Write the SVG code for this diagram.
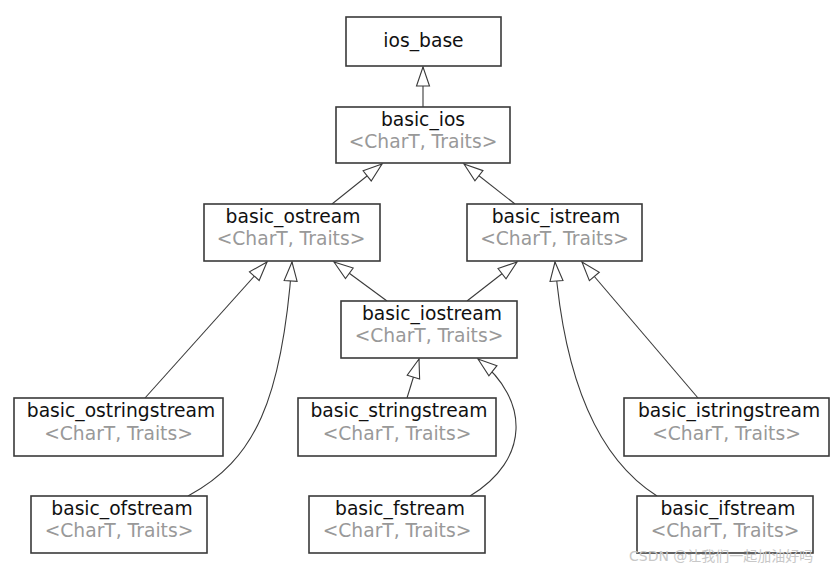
<svg xmlns="http://www.w3.org/2000/svg" width="837" height="573" viewBox="0 0 837 573">
<style>
.box{fill:#fff;stroke:#3a3a3a;stroke-width:1.6}
.t{font-family:"DejaVu Sans",Verdana,sans-serif;font-size:18.7px;fill:#111;text-anchor:middle}
.s{font-family:"DejaVu Sans",Verdana,sans-serif;font-size:18.7px;fill:#999;text-anchor:middle}
.c{fill:none;stroke:#3a3a3a;stroke-width:1.1;marker-end:url(#tri)}
.wm{font-family:"DejaVu Sans","Noto Sans CJK SC",sans-serif;font-size:14px;fill:#c8c8c8}
</style>
<defs>
<marker id="tri" markerUnits="userSpaceOnUse" viewBox="-21 -8 23 16" markerWidth="23" markerHeight="16" refX="0" refY="0" orient="auto">
<path d="M0,0 L-19,-6.5 L-19,6.5 Z" fill="#fff" stroke="#3a3a3a" stroke-width="1.1"/>
</marker>
</defs>
<rect width="837" height="573" fill="#fff"/>
<g id="connectors">
<path class="c" d="M423,107 L423,67"/>
<path class="c" d="M332,204 L382,164"/>
<path class="c" d="M515,204 L464,164"/>
<path class="c" d="M387,301 L334,262"/>
<path class="c" d="M467,301 L517,262"/>
<path class="c" d="M145,398 L267,262"/>
<path class="c" d="M188,496 C255,460 282,400 292,262"/>
<path class="c" d="M407,398 L419,359"/>
<path class="c" d="M470,496 C530,460 530,400 478,359"/>
<path class="c" d="M698,398 L582,262"/>
<path class="c" d="M657,496 C608,465 566,400 555,262"/>
</g>
<g id="ios_base"><rect class="box" x="346" y="17" width="155" height="49"/><text class="t" x="423.5" y="47">ios_base</text></g>
<g id="basic_ios"><rect class="box" x="336" y="107" width="174" height="56"/><text class="t" x="423" y="126">basic_ios</text><text class="s" x="423" y="148">&lt;CharT, Traits&gt;</text></g>
<g id="basic_ostream"><rect class="box" x="204" y="204" width="176" height="57"/><text class="t" x="293" y="223">basic_ostream</text><text class="s" x="291" y="245">&lt;CharT, Traits&gt;</text></g>
<g id="basic_istream"><rect class="box" x="467" y="204" width="175" height="57"/><text class="t" x="556" y="223">basic_istream</text><text class="s" x="554.5" y="245">&lt;CharT, Traits&gt;</text></g>
<g id="basic_iostream"><rect class="box" x="341" y="301" width="176" height="57"/><text class="t" x="432" y="320">basic_iostream</text><text class="s" x="429" y="342">&lt;CharT, Traits&gt;</text></g>
<g id="basic_ostringstream"><rect class="box" x="14" y="398" width="209" height="58"/><text class="t" x="121" y="417">basic_ostringstream</text><text class="s" x="118.5" y="440">&lt;CharT, Traits&gt;</text></g>
<g id="basic_stringstream"><rect class="box" x="298" y="398" width="198" height="58"/><text class="t" x="399" y="417">basic_stringstream</text><text class="s" x="397" y="440">&lt;CharT, Traits&gt;</text></g>
<g id="basic_istringstream"><rect class="box" x="624" y="398" width="205" height="58"/><text class="t" x="729" y="417">basic_istringstream</text><text class="s" x="726.5" y="440">&lt;CharT, Traits&gt;</text></g>
<g id="basic_ofstream"><rect class="box" x="31" y="496" width="176" height="57"/><text class="t" x="122" y="515">basic_ofstream</text><text class="s" x="119" y="537">&lt;CharT, Traits&gt;</text></g>
<g id="basic_fstream"><rect class="box" x="309" y="496" width="176" height="57"/><text class="t" x="400" y="515">basic_fstream</text><text class="s" x="397" y="537">&lt;CharT, Traits&gt;</text></g>
<g id="basic_ifstream"><rect class="box" x="637" y="496" width="176" height="57"/><text class="t" x="728" y="515">basic_ifstream</text><text class="s" x="725" y="537">&lt;CharT, Traits&gt;</text></g>
<text class="wm" x="629" y="561">CSDN @让我们一起加油好吗</text>
</svg>
